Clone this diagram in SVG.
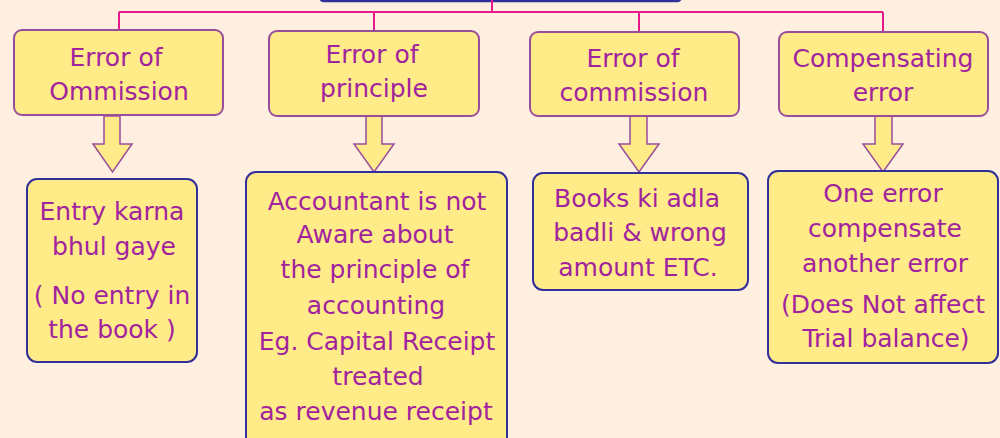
<svg xmlns="http://www.w3.org/2000/svg" width="1000" height="438" viewBox="0 0 1000 438">
<style>
.bg{fill:#FFEFE0}
.top{fill:#FFEB88;stroke:#9A4E9A;stroke-width:2}
.bot{fill:#FFEB88;stroke:#30309A;stroke-width:2}
.arr{fill:#FFEB88;stroke:#9A4E9A;stroke-width:1.5;stroke-linejoin:miter}
.conn{fill:none;stroke:#E8178A;stroke-width:2}
text{font-family:"DejaVu Sans","Noto Sans",sans-serif;font-size:25px;fill:#A1249E;text-anchor:middle}
</style>
<rect class="bg" x="0" y="0" width="1000" height="438"/>
<g id="root">
<rect x="320" y="-30" width="361" height="31" rx="4" fill="#FFEB88" stroke="#30309A" stroke-width="2.5"/>
</g>
<g id="connectors">
<path class="conn" d="M492,0 V12 M119,12 H883 M119,12 V30 M374,12 V31 M639,12 V32 M883,12 V32"/>
<polygon class="arr" points="104,116 120,116 120,144 132,144 112.5,172 93,144 104,144"/>
<polygon class="arr" points="366,116 382,116 382,144 394,144 374,172 354,144 366,144"/>
<polygon class="arr" points="630,116 647,116 647,144 659,144 639,172 619,144 630,144"/>
<polygon class="arr" points="875,116 892,116 892,144 903,144 883,172 863,144 875,144"/>
</g>
<g id="n1">
<rect class="top" x="14" y="30" width="209" height="85" rx="8"/>
<text x="116" y="66">Error of</text>
<text x="119" y="100">Ommission</text>
</g>
<g id="n2">
<rect class="top" x="269" y="31" width="210" height="85" rx="8"/>
<text x="372" y="63">Error of</text>
<text x="374" y="97">principle</text>
</g>
<g id="n3">
<rect class="top" x="530" y="32" width="209" height="84" rx="8"/>
<text x="633" y="67">Error of</text>
<text x="634" y="101">commission</text>
</g>
<g id="n4">
<rect class="top" x="779" y="32" width="209" height="84" rx="8"/>
<text x="883" y="67">Compensating</text>
<text x="883" y="101">error</text>
</g>
<g id="n5">
<rect class="bot" x="27" y="179" width="170" height="183" rx="10"/>
<text x="112" y="220">Entry karna</text>
<text x="114" y="255">bhul gaye</text>
<text x="112" y="304">( No entry in</text>
<text x="112" y="338">the book )</text>
</g>
<g id="n6">
<rect class="bot" x="246" y="172" width="261" height="290" rx="10"/>
<text x="377" y="210">Accountant is not</text>
<text x="375" y="243">Aware about</text>
<text x="375" y="278">the principle of</text>
<text x="376" y="314">accounting</text>
<text x="377" y="350">Eg. Capital Receipt</text>
<text x="378" y="385">treated</text>
<text x="376" y="420">as revenue receipt</text>
</g>
<g id="n7">
<rect class="bot" x="533" y="173" width="215" height="117" rx="10"/>
<text x="637" y="207">Books ki adla</text>
<text x="640" y="241">badli &amp; wrong</text>
<text x="638" y="276">amount ETC.</text>
</g>
<g id="n8">
<rect class="bot" x="768" y="171" width="230" height="192" rx="10"/>
<text x="883" y="202">One error</text>
<text x="885" y="237">compensate</text>
<text x="885" y="272">another error</text>
<text x="883" y="313">(Does Not affect</text>
<text x="886" y="347">Trial balance)</text>
</g>
</svg>
